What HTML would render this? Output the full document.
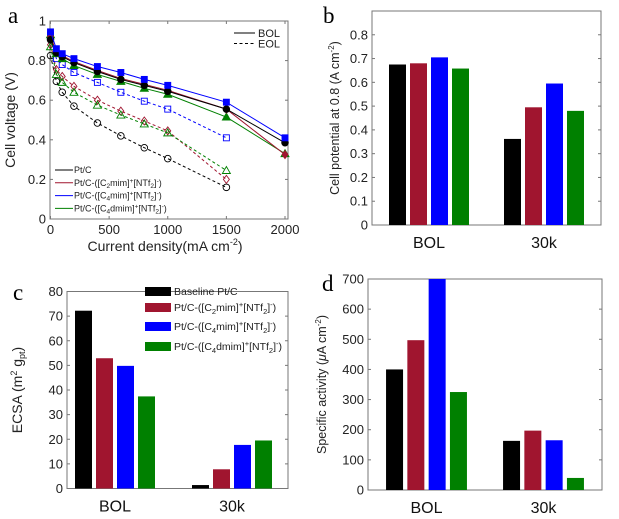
<!DOCTYPE html>
<html><head><meta charset="utf-8"><style>
html,body{margin:0;padding:0;background:#fff;}
svg{display:block;font-family:"Liberation Sans",Arial,sans-serif;}
</style></head><body>
<svg id="fig" width="619" height="519" viewBox="0 0 619 519" xmlns="http://www.w3.org/2000/svg"></svg>
<script>
// ---- Panel a data ----
const aBolX = [0,50,100,200,400,600,800,1000,1500,2000];
const aEolX = [0,50,100,200,400,600,800,1000,1500];
const aBolBlack = [0.905,0.84,0.82,0.79,0.745,0.705,0.675,0.645,0.555,0.385];
const aBolRed   = [0.92,0.845,0.825,0.795,0.75,0.71,0.68,0.65,0.555,0.325];
const aBolBlue  = [0.945,0.86,0.835,0.81,0.77,0.74,0.705,0.675,0.59,0.41];
const aBolGreen = [0.93,0.835,0.81,0.775,0.73,0.695,0.66,0.63,0.515,0.33];
const aEolBlack = [0.825,0.695,0.64,0.57,0.485,0.42,0.36,0.305,0.16];
const aEolRed   = [0.88,0.755,0.72,0.67,0.6,0.545,0.495,0.445,0.2];
const aEolBlue  = [0.93,0.81,0.78,0.74,0.69,0.64,0.595,0.555,0.41];
const aEolGreen = [0.87,0.73,0.69,0.64,0.575,0.525,0.48,0.435,0.245];
const aXTicks = [0,500,1000,1500,2000];
const aYTicks = [0,0.2,0.4,0.6,0.8,1];
// ---- Bar panels ----
const groups = ["BOL","30k"];
const bBOL = [0.675,0.68,0.705,0.658];
const b30k = [0.362,0.495,0.595,0.48];
const bYTicks = [0,0.1,0.2,0.3,0.4,0.5,0.6,0.7,0.8];
const cBOL = [72.2,52.9,49.8,37.4];
const c30k = [1.4,7.8,17.7,19.5];
const cYTicks = [0,10,20,30,40,50,60,70,80];
const dBOL = [400,497,700,325];
const d30k = [163,197,165,40];
const dYTicks = [0,100,200,300,400,500,600,700];

const COLORS = ["#000000","#a0152f","#0000ff","#008000"];
const NS = "http://www.w3.org/2000/svg";
const svg = document.getElementById("fig");
function el(tag, attrs, parent, text){
  const e = document.createElementNS(NS, tag);
  for (const k in attrs) e.setAttribute(k, attrs[k]);
  if (text !== undefined) e.textContent = text;
  (parent||svg).appendChild(e);
  return e;
}
function frame(g, L, R, T, B){
  const r = el("rect",{x:L,y:T,width:R-L,height:B-T,fill:"none",stroke:"#777","stroke-width":1},g);
  
  
}
function yAxis(g, ticks, ys, L, R, fmt){
  ticks.forEach(t=>{
    const y = ys(t);
    el("line",{x1:L,y1:y,x2:L+3,y2:y,stroke:"#777"},g);
    el("line",{x1:R,y1:y,x2:R-3,y2:y,stroke:"#777"},g);
    const tx = el("text",{x:L-4,y:y+4.5,"font-size":13,"text-anchor":"end",fill:"#222"},g,fmt(t));
    
    
  });
}
function letter(g,x,y,t){
  const e = el("text",{x:x,y:y,"font-size":23,"font-family":"Liberation Serif,serif",fill:"#000"},g,t);
  
  
}

// ================= Panel a =================
(function(){
  const g = el("g",{});
  
  
  const L=50, R=288, T=21, B=219;
  const xs = v => 50.5 + v*(234.5/2000);
  const ys = v => B - v*(B-T);
  frame(g,L,R,T,B);
  yAxis(g,aYTicks,ys,L,R,t=>String(Math.round(t*10)/10));
  aXTicks.forEach(t=>{
    const x = xs(t);
    el("line",{x1:x,y1:B,x2:x,y2:B-3,stroke:"#777"},g);
    el("line",{x1:x,y1:T,x2:x,y2:T+3,stroke:"#777"},g);
    const tx = el("text",{x:x,y:B+15,"font-size":13,"text-anchor":"middle",fill:"#222"},g,String(t));
    
    
  });
  const xt = el("text",{x:165,y:251,"font-size":14,"text-anchor":"middle",fill:"#222"},g);
  xt.innerHTML = 'Current density(mA cm<tspan dy="-6" font-size="9">-2</tspan><tspan dy="6">)</tspan>';
  
  
  const yt = el("text",{x:0,y:0,"font-size":14,"text-anchor":"middle",fill:"#222",transform:"translate(15,120) rotate(-90)"},g,"Cell voltage (V)");
  
  

  function marker(x,y,shape,color,filled){
    const f = filled?color:"none";
    let m;
    if(shape==="circle") m = el("circle",{cx:x,cy:y,r:3.3,fill:f,stroke:color,"stroke-width":0.9},g);
    else if(shape==="square") m = el("rect",{x:x-3,y:y-3,width:6,height:6,fill:f,stroke:color,"stroke-width":0.9},g);
    else if(shape==="diamond") m = el("polygon",{points:`${x},${y-4} ${x+3},${y} ${x},${y+4} ${x-3},${y}`,fill:f,stroke:color,"stroke-width":0.9},g);
    else m = el("polygon",{points:`${x},${y-4} ${x+4},${y+3} ${x-4},${y+3}`,fill:f,stroke:color,"stroke-width":0.9},g);
    
    
  }
  function series(xsArr, ysArr, color, shape, dashed, filled, name){
    const pts = xsArr.map((v,i)=>`${xs(v)},${ys(ysArr[i])}`).join(" ");
    const pl = el("polyline",{points:pts,fill:"none",stroke:color,"stroke-width":1,"stroke-dasharray":dashed?"3,2.5":"none"},g);
    
    
    xsArr.forEach((v,i)=>marker(xs(v),ys(ysArr[i]),shape,color,filled));
  }
  series(aEolX,aEolBlack,COLORS[0],"circle",true,false,"eol-line-ptc");
  series(aEolX,aEolRed,COLORS[1],"diamond",true,false,"eol-line-c2mim");
  series(aEolX,aEolGreen,COLORS[3],"triangle",true,false,"eol-line-c4dmim");
  series(aEolX,aEolBlue,COLORS[2],"square",true,false,"eol-line-c4mim");
  series(aBolX,aBolGreen,COLORS[3],"triangle",false,true,"bol-line-c4dmim");
  series(aBolX,aBolRed,COLORS[1],"diamond",false,true,"bol-line-c2mim");
  series(aBolX,aBolBlack,COLORS[0],"circle",false,true,"bol-line-ptc");
  series(aBolX,aBolBlue,COLORS[2],"square",false,true,"bol-line-c4mim");

  const lg = el("g",{},g);
  
  
  el("line",{x1:234,y1:33,x2:255,y2:33,stroke:"#000"},lg);
  el("text",{x:258,y:37,"font-size":11,fill:"#222"},lg,"BOL");
  el("line",{x1:234,y1:43.5,x2:255,y2:43.5,stroke:"#000","stroke-dasharray":"3,2.5"},lg);
  el("text",{x:258,y:47.5,"font-size":11,fill:"#222"},lg,"EOL");

  const lg2 = el("g",{},g);
  
  
  const labs = ['Pt/C',
    'Pt/C-([C<tspan dy="2" font-size="6.5">2</tspan><tspan dy="-2">mim]</tspan><tspan dy="-3" font-size="6.5">+</tspan><tspan dy="3">[NTf</tspan><tspan dy="2" font-size="6.5">2</tspan><tspan dy="-2">]</tspan><tspan dy="-3" font-size="6.5">-</tspan><tspan dy="3">)</tspan>',
    'Pt/C-([C<tspan dy="2" font-size="6.5">4</tspan><tspan dy="-2">mim]</tspan><tspan dy="-3" font-size="6.5">+</tspan><tspan dy="3">[NTf</tspan><tspan dy="2" font-size="6.5">2</tspan><tspan dy="-2">]</tspan><tspan dy="-3" font-size="6.5">-</tspan><tspan dy="3">)</tspan>',
    'Pt/C-([C<tspan dy="2" font-size="6.5">4</tspan><tspan dy="-2">dmim]</tspan><tspan dy="-3" font-size="6.5">+</tspan><tspan dy="3">[NTf</tspan><tspan dy="2" font-size="6.5">2</tspan><tspan dy="-2">]</tspan><tspan dy="-3" font-size="6.5">-</tspan><tspan dy="3">)</tspan>'];
  labs.forEach((l,i)=>{
    const y = 170 + i*12.8;
    el("line",{x1:55,y1:y,x2:73,y2:y,stroke:COLORS[i],"stroke-width":1},lg2);
    const t = el("text",{x:74,y:y+3,"font-size":9,fill:"#222"},lg2);
    t.innerHTML = l;
  });
  letter(g,8,23,"a");
})();

// ================= Bar panels =================
function barPanel(opt){
  const g = el("g",{});
  
  
  const {L,R,T,B,max} = opt;
  const ys = v => B - v/max*(B-T);
  frame(g,L,R,T,B);
  yAxis(g,opt.ticks,ys,L,R,opt.fmt);
  const series = [opt.bol, opt.k30];
  series.forEach((vals,gi)=>{
    const cx = opt.c0 + gi*opt.gap;
    vals.forEach((v,i)=>{
      const x = cx + (i-1.5)*opt.pitch - opt.bw/2;
      const r = el("rect",{x:x,y:ys(v),width:opt.bw,height:B-ys(v),fill:COLORS[i]},g);
      
      
    });
    const t = el("text",{x:cx,y:B+23,"font-size":16,"text-anchor":"middle",fill:"#111"},g,groups[gi]);
    
    
  });
  const yt = el("text",{x:0,y:0,"font-size":opt.yfs,"text-anchor":"middle",fill:"#222",transform:`translate(${opt.ytx},${(T+B)/2}) rotate(-90)`},g);
  yt.innerHTML = opt.ytitle;
  
  
  letter(g,opt.lx,opt.ly,opt.letter);
  return g;
}
barPanel({name:"panel-b-bar-chart",L:372,R:601,T:11,B:225,max:0.9,ticks:bYTicks,fmt:t=>String(Math.round(t*10)/10),
  bol:bBOL,k30:b30k,c0:429,gap:115,pitch:21,bw:17,
  ytitle:'Cell potential at 0.8 (A cm<tspan dy="-5" font-size="8">-2</tspan><tspan dy="5">)</tspan>',yfs:12.5,ytx:339,letter:"b",lx:323,ly:23});
barPanel({name:"panel-c-bar-chart",L:67,R:288,T:291.5,B:488.5,max:80,ticks:cYTicks,fmt:t=>String(t),
  bol:cBOL,k30:c30k,c0:115,gap:117,pitch:21,bw:17,
  ytitle:'ECSA (m<tspan dy="-5" font-size="9">2</tspan><tspan dy="5"> g</tspan><tspan dy="3" font-size="9">pt</tspan><tspan dy="-3">)</tspan>',yfs:14,ytx:22,letter:"c",lx:13,ly:300});
barPanel({name:"panel-d-bar-chart",L:368,R:602,T:279,B:490,max:700,ticks:dYTicks,fmt:t=>String(t),
  bol:dBOL,k30:d30k,c0:426.5,gap:117,pitch:21.3,bw:17,
  ytitle:'Specific activity (<tspan font-style="italic">μ</tspan>A cm<tspan dy="-5" font-size="8">-2</tspan><tspan dy="5">)</tspan>',yfs:12.5,ytx:326,letter:"d",lx:322,ly:291});

(function(){
  const g = el("g",{});
  
  
  const labs = ['Baseline Pt/C',
    'Pt/C-([C<tspan dy="3" font-size="7.5">2</tspan><tspan dy="-3">mim]</tspan><tspan dy="-4" font-size="7.5">+</tspan><tspan dy="4">[NTf</tspan><tspan dy="3" font-size="7.5">2</tspan><tspan dy="-3">]</tspan><tspan dy="-4" font-size="7.5">-</tspan><tspan dy="4">)</tspan>',
    'Pt/C-([C<tspan dy="3" font-size="7.5">4</tspan><tspan dy="-3">mim]</tspan><tspan dy="-4" font-size="7.5">+</tspan><tspan dy="4">[NTf</tspan><tspan dy="3" font-size="7.5">2</tspan><tspan dy="-3">]</tspan><tspan dy="-4" font-size="7.5">-</tspan><tspan dy="4">)</tspan>',
    'Pt/C-([C<tspan dy="3" font-size="7.5">4</tspan><tspan dy="-3">dmim]</tspan><tspan dy="-4" font-size="7.5">+</tspan><tspan dy="4">[NTf</tspan><tspan dy="3" font-size="7.5">2</tspan><tspan dy="-3">]</tspan><tspan dy="-4" font-size="7.5">-</tspan><tspan dy="4">)</tspan>'];
  const yc = [291.5, 307.5, 326.5, 346.5];
  labs.forEach((l,i)=>{
    el("rect",{x:145,y:yc[i]-4.5,width:26,height:9,fill:COLORS[i]},g);
    const t = el("text",{x:174,y:yc[i]+3.5,"font-size":10.5,fill:"#222"},g);
    t.innerHTML = l;
  });
})();
</script>
</body></html>
